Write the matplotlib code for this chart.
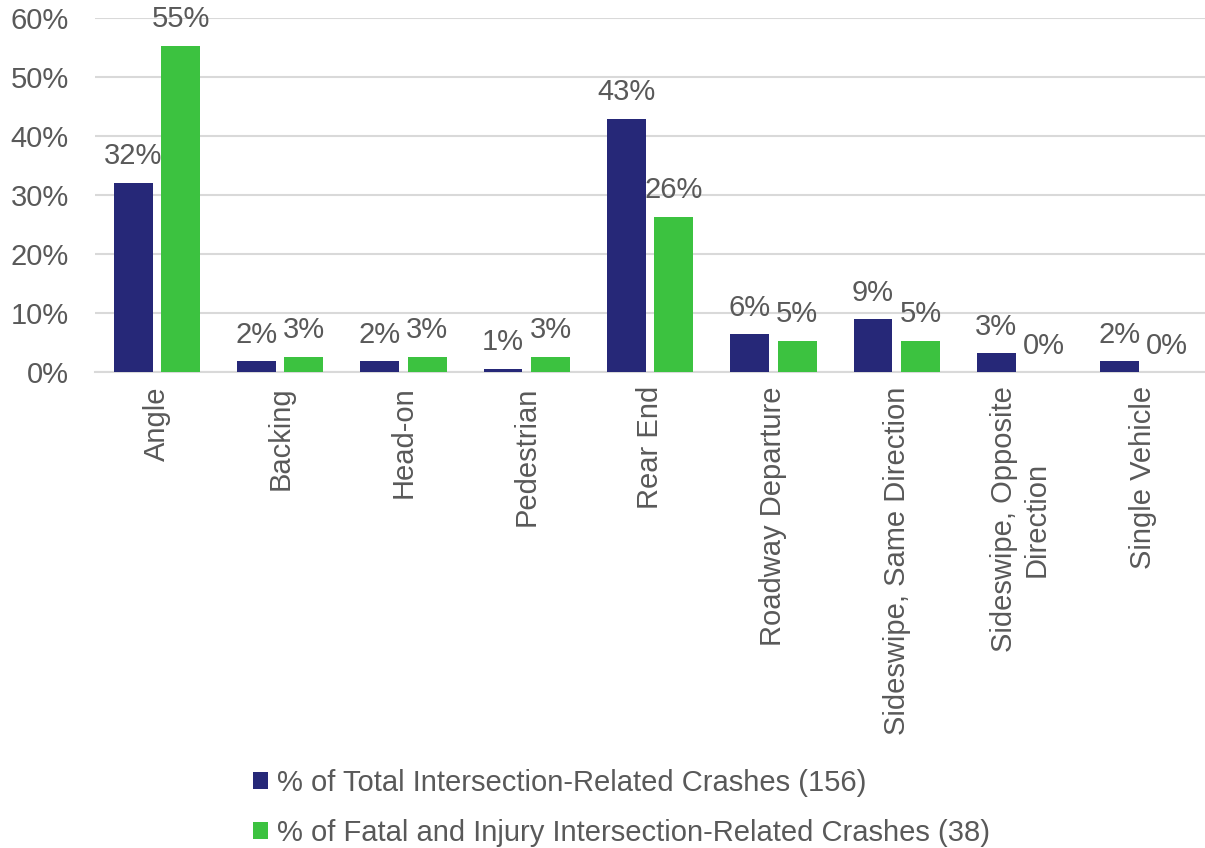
import numpy as np
import matplotlib.pyplot as plt
from matplotlib.ticker import PercentFormatter

categories = ["Angle", "Backing", "Head-on", "Pedestrian", "Rear End",
              "Roadway Departure", "Sideswipe, Same Direction",
              "Sideswipe, Opposite\nDirection", "Single Vehicle"]
total_pct = [32.1, 1.9, 1.9, 0.6, 42.9, 6.4, 9.0, 3.2, 1.9]
fatal_pct = [55.3, 2.6, 2.6, 2.6, 26.3, 5.3, 5.3, 0.0, 0.0]
series_names = ["% of Total Intersection-Related Crashes (156)",
                "% of Fatal and Injury Intersection-Related Crashes (38)"]

NAVY = "#262878"
GREEN = "#3cc240"
TEXT = "#595959"
GRID = "#d9d9d9"
FS = 21

plt.rcParams["font.family"] = ["Liberation Sans", "DejaVu Sans"]

fig = plt.figure(figsize=(12.05, 8.48), dpi=100)
ax = fig.add_axes([0.079, 0.561, 0.921, 0.418])

x = np.arange(len(categories))
w = 0.315
gap = 0.07
b1 = ax.bar(x - (w + gap) / 2, total_pct, w, color=NAVY, label=series_names[0], zorder=3)
b2 = ax.bar(x + (w + gap) / 2, fatal_pct, w, color=GREEN, label=series_names[1], zorder=3)

# data labels above every bar, zero bars included
for bars, vals in ((b1, total_pct), (b2, fatal_pct)):
    for rect, v in zip(bars, vals):
        ax.annotate(f"{v:.0f}%", (rect.get_x() + rect.get_width() / 2, rect.get_height()),
                    xytext=(0, 9), textcoords="offset points", ha="center", va="bottom",
                    fontsize=FS, color=TEXT)

ax.set_ylim(0, 60)
ax.set_xlim(-0.5, len(categories) - 0.5)
ax.set_yticks(np.arange(0, 61, 10))
ax.yaxis.set_major_formatter(PercentFormatter(decimals=0))
ax.grid(axis="y", color=GRID, linewidth=1.5, zorder=0)
ax.set_axisbelow(True)
for s in ("top", "right", "left"):
    ax.spines[s].set_visible(False)
ax.spines["bottom"].set_color(GRID)
ax.spines["bottom"].set_linewidth(1.5)

ax.set_xticks(x)
ax.set_xticklabels(categories, rotation=90, ha="center", va="top", fontsize=FS, color=TEXT)
ax.tick_params(axis="y", labelsize=FS, labelcolor=TEXT, length=0, pad=19)
ax.tick_params(axis="x", length=0, pad=10)

fig.legend(handles=[b1, b2], loc="lower center", bbox_to_anchor=(0.516, -0.03), ncol=1,
           frameon=False, fontsize=FS, labelcolor=TEXT, handlelength=0.52,
           handleheight=0.52, handletextpad=0.3, labelspacing=0.75)

fig.savefig("out.png", dpi=100)
